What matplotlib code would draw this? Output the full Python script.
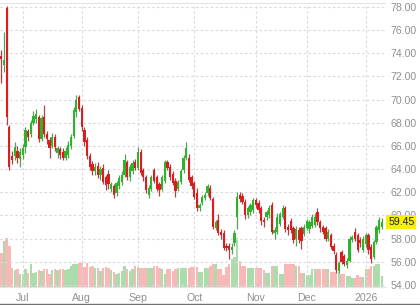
import numpy as np
import matplotlib.pyplot as plt
from matplotlib.lines import Line2D

plt.rcParams['font.family'] = ['Liberation Sans', 'DejaVu Sans']

# month tick positions (trading-day index) and labels
months = ["Jul", "Aug", "Sep", "Oct", "Nov", "Dec", "2026"]
month_start = [8, 30, 51, 72, 95, 114, 136]

# daily OHLC
opens = [73.8, 73.0, 77.9, 67.6, 65.1, 65.1, 65.6, 64.9, 65.2, 65.9,
         67.3, 67.0, 68.0, 68.3, 68.5, 66.6, 68.5, 67.0, 66.5, 66.0,
         66.8, 65.4, 65.7, 65.5, 65.0, 65.2, 66.0, 66.9, 68.9, 70.2,
         69.3, 67.4, 66.5, 65.1, 64.4, 63.8, 64.3, 63.5, 64.1, 63.3,
         63.6, 62.3, 62.5, 61.9, 62.5, 62.9, 63.5, 64.6, 63.3, 63.8,
         64.6, 64.1, 65.5, 63.9, 63.3, 61.8, 62.3, 63.9, 63.3, 62.7,
         62.3, 63.0, 64.6, 64.2, 63.6, 63.0, 62.3, 62.9, 63.9, 65.0,
         65.0, 63.3, 62.8, 61.9, 60.6, 61.1, 61.5, 61.9, 62.4, 61.4,
         58.9, 59.6, 58.6, 58.5, 57.4, 57.4, 57.0, 57.6, 59.9, 61.8,
         61.7, 61.2, 60.0, 60.3, 60.5, 61.3, 61.1, 60.6, 59.6, 59.9,
         60.0, 60.9, 58.5, 58.6, 59.3, 59.9, 60.6, 59.0, 59.5, 58.9,
         58.0, 58.7, 58.9, 58.4, 58.9, 58.8, 59.1, 59.2, 60.3, 59.4,
         59.0, 58.9, 58.0, 58.3, 57.4, 56.6, 55.2, 56.8, 56.5, 55.7,
         56.1, 57.9, 58.6, 58.3, 57.9, 57.0, 57.5, 58.3, 57.3, 56.4,
         57.7, 58.7, 59.0]
highs = [74.3, 75.8, 78.1, 67.8, 65.6, 66.3, 66.0, 65.8, 66.2, 67.6,
         67.5, 68.2, 69.0, 69.2, 68.7, 68.7, 69.5, 67.3, 66.8, 67.1,
         67.0, 66.0, 65.9, 65.8, 65.9, 66.4, 67.0, 69.4, 70.4, 70.4,
         69.5, 67.6, 66.8, 65.4, 64.7, 64.5, 64.6, 64.3, 64.4, 63.5,
         63.9, 62.9, 62.7, 63.0, 63.5, 63.8, 65.3, 64.8, 64.4, 64.8,
         64.9, 65.9, 65.7, 64.1, 63.5, 62.6, 63.5, 64.1, 63.5, 62.9,
         63.5, 64.8, 64.8, 64.4, 63.8, 63.2, 63.1, 64.0, 65.2, 66.3,
         65.3, 63.5, 63.0, 62.4, 61.1, 61.8, 62.0, 62.7, 62.6, 61.6,
         59.6, 60.1, 58.8, 58.7, 57.6, 57.6, 57.6, 58.7, 62.0, 62.0,
         61.9, 61.4, 60.8, 61.1, 61.5, 61.5, 61.3, 60.8, 59.9, 60.5,
         60.9, 61.2, 59.0, 60.2, 60.3, 60.9, 60.8, 59.3, 59.8, 59.1,
         59.1, 59.0, 59.1, 59.3, 59.7, 59.6, 60.1, 60.2, 60.6, 59.6,
         59.2, 59.1, 58.8, 58.5, 57.6, 56.8, 56.1, 57.0, 56.7, 56.3,
         58.2, 58.3, 58.9, 58.5, 58.1, 58.2, 58.5, 58.5, 57.5, 57.9,
         59.2, 59.9, 59.8]
lows = [71.4, 72.4, 67.8, 63.9, 64.4, 64.8, 64.5, 64.2, 64.9, 65.4,
        66.4, 66.8, 67.8, 68.0, 66.3, 66.4, 66.8, 66.2, 65.0, 65.8,
        65.6, 65.0, 64.9, 64.8, 64.8, 65.0, 65.7, 66.7, 68.5, 69.0,
        67.3, 66.0, 64.9, 63.9, 63.5, 63.5, 63.2, 63.1, 62.7, 62.2,
        62.3, 62.0, 61.5, 61.7, 62.3, 62.6, 63.3, 63.1, 63.0, 63.6,
        63.9, 63.9, 63.5, 63.0, 61.9, 61.5, 62.1, 62.8, 62.1, 61.7,
        62.1, 62.8, 63.9, 63.1, 62.6, 61.6, 62.1, 62.7, 63.7, 64.8,
        62.9, 62.3, 61.4, 60.4, 60.4, 60.9, 61.3, 61.7, 61.3, 58.8,
        58.7, 58.3, 58.0, 57.0, 56.9, 56.2, 56.7, 57.4, 58.8, 61.2,
        61.0, 59.7, 59.8, 60.0, 60.2, 60.6, 60.2, 59.2, 59.0, 59.6,
        59.8, 58.4, 58.0, 58.4, 59.1, 59.7, 58.6, 58.3, 58.5, 57.6,
        57.4, 57.6, 57.1, 58.2, 58.7, 58.5, 58.9, 59.0, 59.2, 58.6,
        58.4, 57.8, 57.8, 57.1, 56.7, 55.0, 55.0, 55.8, 55.6, 55.5,
        56.0, 57.7, 57.8, 56.8, 57.3, 56.8, 57.3, 56.7, 55.9, 56.2,
        57.5, 58.5, 58.8]
closes = [73.5, 73.4, 68.5, 64.2, 64.8, 65.9, 65.0, 65.5, 65.8, 67.4,
          66.8, 68.0, 68.6, 68.8, 66.6, 68.4, 67.0, 66.6, 65.8, 66.8,
          65.9, 65.8, 65.2, 65.0, 65.6, 66.1, 66.8, 69.1, 70.0, 69.2,
          67.6, 66.3, 65.1, 64.2, 63.8, 64.2, 63.5, 64.0, 62.9, 62.6,
          62.7, 62.7, 61.8, 62.8, 63.2, 63.5, 64.8, 63.3, 64.2, 64.5,
          64.1, 65.5, 63.7, 63.3, 62.2, 62.4, 63.3, 63.0, 62.3, 62.2,
          63.3, 64.6, 64.1, 63.3, 62.8, 62.1, 62.9, 63.8, 65.0, 65.8,
          63.1, 62.5, 61.6, 60.6, 60.9, 61.6, 61.8, 62.5, 61.5, 59.0,
          59.4, 58.5, 58.3, 57.2, 57.2, 57.0, 57.3, 58.5, 61.6, 61.4,
          61.2, 60.0, 60.6, 60.9, 61.3, 60.9, 60.5, 59.5, 59.4, 60.3,
          60.6, 58.6, 58.7, 59.9, 60.1, 60.6, 58.8, 58.7, 58.7, 57.9,
          58.8, 57.9, 57.8, 59.0, 59.5, 59.4, 59.9, 59.9, 59.4, 58.9,
          58.6, 58.0, 58.6, 57.3, 56.9, 55.3, 55.9, 56.0, 55.8, 56.1,
          58.0, 58.1, 58.0, 57.0, 57.6, 58.0, 58.3, 57.0, 56.2, 57.7,
          59.0, 59.6, 59.45]
volume = [34, 46, 49, 41, 19, 17, 18, 13, 13, 18,
          14, 23, 14, 15, 17, 16, 18, 18, 13, 17,
          18, 17, 18, 18, 17, 18, 21, 23, 23, 24,
          24, 20, 24, 20, 21, 19, 19, 16, 19, 20,
          19, 17, 15, 13, 14, 16, 21, 18, 16, 18,
          21, 20, 19, 19, 19, 19, 19, 21, 21, 19,
          18, 13, 18, 18, 16, 18, 19, 19, 19, 19,
          19, 20, 20, 20, 15, 15, 19, 19, 21, 23,
          23, 18, 18, 12, 20, 23, 28, 30, 49, 26,
          21, 21, 19, 19, 19, 19, 19, 19, 17, 14,
          14, 21, 21, 21, 13, 13, 23, 23, 23, 23,
          21, 21, 14, 14, 12, 12, 18, 18, 18, 18,
          18, 18, 18, 15, 15, 15, 15, 13, 13, 11,
          11, 9, 9, 12, 10, 10, 18, 18, 21, 21,
          23, 23, 11]
last_price = 59.45

idx = np.arange(len(closes))
o = np.array(opens)
c = np.array(closes)
up = c >= o

red, green = '#dc1c1f', '#2cb52c'
red_wick, green_wick = '#ab4545', '#58a058'
vol_red, vol_green = '#f8b8b8', '#acdcac'

fig = plt.figure(figsize=(4.2, 3.05), dpi=100)
rect = [0.0, 18 / 305, 385 / 420, (287 - 2.7) / 305]
ax = fig.add_axes(rect)
axv = ax.twinx()
ax.set_zorder(axv.get_zorder() + 1)
ax.patch.set_visible(False)

# volume
axv.bar(idx, volume, width=0.9, color=np.where(up, vol_green, vol_red), linewidth=0)
axv.set_ylim(0, max(volume) * 5.8)
axv.set_yticks([])
for s in axv.spines.values():
    s.set_visible(False)

# candles
ax.vlines(idx, lows, highs, colors=np.where(up, green_wick, red_wick), linewidth=0.9, zorder=3)
body = np.maximum(np.abs(c - o), 0.06)
ax.bar(idx, body, bottom=np.minimum(o, c), width=0.85,
       color=np.where(up, green, red), linewidth=0, zorder=4)

ax.set_xlim(-0.49, 143.2)
ax.set_ylim(53.82, 78.37)
ax.yaxis.tick_right()
ax.set_yticks(np.arange(54, 79, 2))
ax.set_yticklabels([f"{v:.2f}" for v in np.arange(54, 79, 2)])
ax.set_xticks(month_start)
ax.set_xticklabels(months)
ax.tick_params(axis='y', length=0, pad=3.8, labelsize=7.6, labelcolor='#8f8f8f')
ax.tick_params(axis='x', length=0, pad=4.5, labelsize=7.6, labelcolor='#8f8f8f')
ax.grid(True, color='#d9d9d9', linestyle=(0, (2.2, 2.2)), linewidth=0.8)
ax.set_axisbelow(True)
for name, s in ax.spines.items():
    s.set_visible(name in ('top', 'bottom'))
    s.set_color('#e4e4e4')
    s.set_linewidth(0.8)

# last price marker
ax.text(1.008, last_price, f"{last_price:.2f}", transform=ax.get_yaxis_transform(),
        ha='left', va='center', fontsize=7.6, color='#222222', zorder=10,
        bbox=dict(boxstyle='square,pad=0.18', facecolor='#f7ef00', edgecolor='none'))

fig.add_artist(Line2D([0, 1], [0.6 / 305, 0.6 / 305], color='#707070', linewidth=1.0))

fig.savefig('out.png', dpi=100)
